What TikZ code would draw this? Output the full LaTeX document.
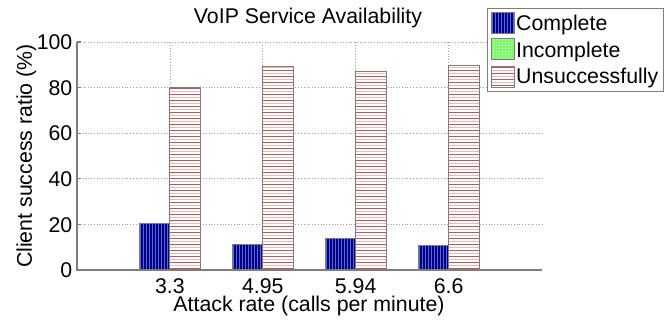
\documentclass[tikz,border=0pt]{standalone}
\usepackage{fontspec}
\setmainfont{Liberation Sans}
\definecolor{cnavy}{RGB}{0,0,140}
\definecolor{cstripe}{RGB}{90,105,200}
\definecolor{rdark}{RGB}{180,90,90}
\definecolor{rlight}{RGB}{232,185,185}
\definecolor{cgreen}{RGB}{128,250,110}
\definecolor{axgray}{RGB}{125,125,125}
\newcommand\compbar[4]{%
  \fill[cnavy] (#1,#2) rectangle (#3,#4);
  \begin{scope}
    \clip (#1,#2) rectangle (#3,#4);
    \foreach \i in {0,...,12} \draw[cstripe, line width=0.9pt] ({#1+1.5+3*\i},#2) -- ({#1+1.5+3*\i},#4);
  \end{scope}
  \draw[barbox] (#1,#2) rectangle (#3,#4);}
\newcommand\unsbar[4]{%
  \fill[white] (#1,#2) rectangle (#3,#4);
  \begin{scope}
    \clip (#1,#2) rectangle (#3,#4);
    \foreach \i in {0,...,70} {
      \pgfmathsetmacro\yy{#2+1.5+3*\i}
      \ifodd\i \draw[rlight, line width=1pt] (#1,\yy) -- (#3,\yy);
      \else \draw[rdark, line width=1pt] (#1,\yy) -- (#3,\yy); \fi}
  \end{scope}
  \draw[barbox] (#1,#2) rectangle (#3,#4);}
\newcommand\incpatch[4]{%
  \fill[cgreen] (#1,#2) rectangle (#3,#4);
  \begin{scope}
    \clip (#1,#2) rectangle (#3,#4);
    \foreach \i in {0,...,8} \foreach \j in {0,...,8}
      \fill[white!80!cgreen] ({#1+1.5+3*\i},{#2+1.5+3*\j}) rectangle ++(1,1);
  \end{scope}
  \draw[barbox] (#1,#2) rectangle (#3,#4);}
\begin{document}
\begin{tikzpicture}[x=1pt,y=1pt,
  font=\fontsize{21.3}{24}\selectfont,
  gridline/.style={draw=gray!75, dotted, line width=0.8pt},
  barbox/.style={draw=axgray, line width=1pt},
  axisline/.style={draw=axgray, line width=1.3pt},
  lbl/.style={inner sep=0pt}]
\useasboundingbox (-77,-52) rectangle (587,270);
% grid
\foreach \v in {45.6,91.2,136.8,182.4,228} \draw[gridline] (0,\v) -- (465,\v);
\foreach \c in {92.9,185.8,278.7,371.6} \draw[gridline] (\c,0) -- (\c,228);
% bars
\compbar{62.4}{0}{92.9}{46.7}
\compbar{155.3}{0}{185.8}{25.7}
\compbar{248.2}{0}{278.7}{31.3}
\compbar{341.1}{0}{371.6}{24.7}
\unsbar{92.9}{0}{123.4}{183}
\unsbar{185.8}{0}{216.3}{204}
\unsbar{278.7}{0}{309.2}{198.7}
\unsbar{371.6}{0}{402.1}{204.7}
% axes
\draw[axisline] (0,228) -- (0,0) -- (465,0);
\foreach \v in {0,45.6,91.2,136.8,182.4,228} \draw[axisline] (0,\v) -- (4,\v);
% y tick labels
\foreach \v/\t in {0/0,45.6/20,91.2/40,136.8/60,182.4/80,228/100}
  \node[lbl, anchor=base east] (yt\t) at (-4.5,\v-7.6) {\t};
% x tick labels
\foreach \c/\t/\n in {92.9/3.3/a,185.8/4.95/b,278.7/5.94/c,371.6/6.6/d}
  \node[lbl, anchor=base] (xt\n) at (\c,-23) {\t};
% axis labels
\node[lbl, anchor=base] (xlab) at (232,-41) {Attack rate (calls per minute)};
\node[lbl, anchor=base, rotate=90] (ylab) at (-45,114) {Client success ratio (\%)};
\node[lbl, anchor=base] (title) at (231,246) {VoIP Service Availability};
% legend
\draw[draw=axgray, fill=white, line width=1pt] (410,179) rectangle (586,261);
\compbar{414}{236}{437}{257}
\incpatch{414}{210}{437}{231}
\unsbar{414}{183}{437}{204}
\node[lbl, anchor=base west] (lc) at (439,239.3) {Complete};
\node[lbl, anchor=base west] (li) at (439,212.7) {Incomplete};
\node[lbl, anchor=base west] (lu) at (439,186) {Unsuccessfully};
\end{tikzpicture}
\end{document}
